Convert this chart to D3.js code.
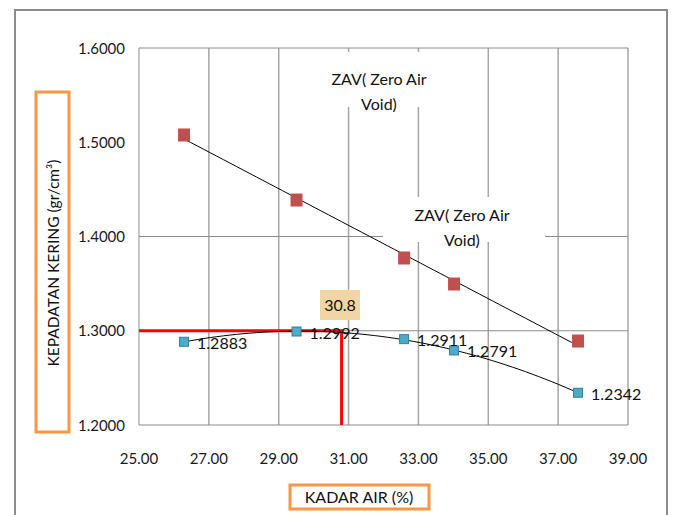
<!DOCTYPE html>
<html>
<head>
<meta charset="utf-8">
<script src="https://cdn.jsdelivr.net/npm/d3@7"></script>
<style>
  html, body { margin: 0; padding: 0; background: #fff; }
  svg text { font-family: Lato, "Open Sans", sans-serif; }
</style>
</head>
<body>
<svg id="chart" width="673" height="515"></svg>
<script>
// ---- data ----
const kadarAir = [26.29, 29.51, 32.59, 34.02, 37.57];          // x values (%)
const zavValues = [1.5077, 1.4387, 1.3772, 1.3496, 1.2891];     // ZAV (red squares)
const kepadatan = [1.2883, 1.2992, 1.2911, 1.2791, 1.2342];     // dry density (blue squares)
const kepadatanLabels = ["1.2883", "1.2992", "1.2911", "1.2791", "1.2342"];
const xTicks = [25, 27, 29, 31, 33, 35, 37, 39];
const yTicks = [1.2, 1.3, 1.4, 1.5, 1.6];
const yGrid = [1.3, 1.4];
const optimum = { x: 30.8, y: 1.3, label: "30.8" };
const zavLabelLines = ["ZAV( Zero Air", "Void)"];

const svg = d3.select("#chart");
const x = d3.scaleLinear().domain([25, 39]).range([139, 628]);
const y = d3.scaleLinear().domain([1.2, 1.6]).range([425, 48]);

// outer frame
svg.append("rect").attr("x", 15).attr("y", 10).attr("width", 652).attr("height", 520)
  .attr("fill", "none").attr("stroke", "#8c8c8c").attr("stroke-width", 2);

// gridlines
const g = svg.append("g");
g.selectAll(".vg").data(xTicks.slice(1)).join("line")
  .attr("x1", d => x(d)).attr("x2", d => x(d)).attr("y1", y(1.6)).attr("y2", y(1.2))
  .attr("stroke", "#a6a6a6").attr("stroke-width", 1.5);
g.selectAll(".hg").data(yGrid).join("line")
  .attr("x1", x(25)).attr("x2", x(39)).attr("y1", d => y(d)).attr("y2", d => y(d))
  .attr("stroke", "#8c8c8c").attr("stroke-width", 1);
g.append("line").attr("x1", x(25)).attr("x2", x(39)).attr("y1", y(1.6)).attr("y2", y(1.6))
  .attr("stroke", "#8c8c8c").attr("stroke-width", 1);
g.append("line").attr("x1", x(25)).attr("x2", x(39)).attr("y1", y(1.2)).attr("y2", y(1.2))
  .attr("stroke", "#8c8c8c").attr("stroke-width", 1);
g.append("line").attr("x1", x(25)).attr("x2", x(25)).attr("y1", y(1.6)).attr("y2", y(1.2))
  .attr("stroke", "#8c8c8c").attr("stroke-width", 1);

// axis tick labels
svg.selectAll(".yt").data(yTicks).join("text")
  .attr("x", 125).attr("y", d => y(d) + 5.5).attr("text-anchor", "end")
  .attr("font-size", 15).attr("fill", "#1a1a1a").text(d => d.toFixed(4));
svg.selectAll(".xt").data(xTicks).join("text")
  .attr("x", d => x(d)).attr("y", 464).attr("text-anchor", "middle")
  .attr("font-size", 15).attr("fill", "#1a1a1a").text(d => d.toFixed(2));

// ZAV label boxes (white backgrounds hide gridlines)
function zavLabel(cx, y0, box) {
  svg.append("rect").attr("x", box[0]).attr("y", box[1]).attr("width", box[2]).attr("height", box[3]).attr("fill", "#fff");
  svg.selectAll(null).data(zavLabelLines).join("text")
    .attr("x", cx).attr("y", (d, i) => y0 + i * 25).attr("text-anchor", "middle")
    .attr("font-size", 16).attr("fill", "#111").text(d => d);
}
zavLabel(379, 85, [312, 52, 134, 55]);
zavLabel(462, 221, [383, 197, 162, 45]);

// trendlines
function linearFit(xs, ys) {
  const n = xs.length, mx = d3.mean(xs), my = d3.mean(ys);
  let sxy = 0, sxx = 0;
  for (let i = 0; i < n; i++) { sxy += (xs[i] - mx) * (ys[i] - my); sxx += (xs[i] - mx) ** 2; }
  const b = sxy / sxx; return t => my + b * (t - mx);
}
function quadFit(xs, ys) {
  const S = Array.from({length: 5}, (_, k) => d3.sum(xs, v => v ** k));
  const T = Array.from({length: 3}, (_, k) => d3.sum(xs, (v, i) => ys[i] * v ** k));
  const A = [[S[0], S[1], S[2], T[0]], [S[1], S[2], S[3], T[1]], [S[2], S[3], S[4], T[2]]];
  for (let i = 0; i < 3; i++) {
    for (let j = i + 1; j < 3; j++) {
      const f = A[j][i] / A[i][i];
      for (let k = i; k < 4; k++) A[j][k] -= f * A[i][k];
    }
  }
  const c = A[2][3] / A[2][2];
  const b = (A[1][3] - A[1][2] * c) / A[1][1];
  const a = (A[0][3] - A[0][2] * c - A[0][1] * b) / A[0][0];
  return t => a + b * t + c * t * t;
}
const xmin = d3.min(kadarAir), xmax = d3.max(kadarAir);
const samples = d3.range(0, 61).map(i => xmin + (xmax - xmin) * i / 60);
const lf = linearFit(kadarAir, zavValues);
const qf = quadFit(kadarAir, kepadatan);
const line = d3.line().x(d => x(d[0])).y(d => y(d[1]));

// red optimum lines
svg.append("path").attr("d", line([[25, optimum.y], [optimum.x, optimum.y], [optimum.x, 1.2]]))
  .attr("fill", "none").attr("stroke", "#ff0000").attr("stroke-width", 3);

svg.append("path").attr("d", line(samples.map(t => [t, lf(t)])))
  .attr("fill", "none").attr("stroke", "#000").attr("stroke-width", 1);
svg.append("path").attr("d", line(samples.map(t => [t, qf(t)])))
  .attr("fill", "none").attr("stroke", "#000").attr("stroke-width", 1);

// markers
svg.selectAll(".zav").data(kadarAir).join("rect")
  .attr("x", (d) => x(d) - 6).attr("y", (d, i) => y(zavValues[i]) - 6.5)
  .attr("width", 12).attr("height", 13).attr("fill", "#c0504d");
svg.selectAll(".kd").data(kadarAir).join("rect")
  .attr("x", d => x(d) - 4.5).attr("y", (d, i) => y(kepadatan[i]) - 4.5)
  .attr("width", 9).attr("height", 9).attr("fill", "#4bacc6").attr("stroke", "#357ca5").attr("stroke-width", 1);

// data labels
svg.selectAll(".kdl").data(kadarAir).join("text")
  .attr("x", d => x(d) + 13).attr("y", (d, i) => y(kepadatan[i]) + 7)
  .attr("font-size", 16).attr("fill", "#111").text((d, i) => kepadatanLabels[i]);

// optimum label box
svg.append("rect").attr("x", 320).attr("y", 290).attr("width", 40).attr("height", 30).attr("fill", "#f0d6a3");
svg.append("text").attr("x", 340).attr("y", 311).attr("text-anchor", "middle")
  .attr("font-size", 16).attr("fill", "#111").text(optimum.label);

// axis titles in orange boxes
svg.append("rect").attr("x", 36).attr("y", 92).attr("width", 33).attr("height", 340)
  .attr("fill", "none").attr("stroke", "#f79646").attr("stroke-width", 3);
svg.append("text").attr("transform", "translate(59,263) rotate(-90)").attr("text-anchor", "middle")
  .attr("font-size", 15.5).attr("fill", "#111").text("KEPADATAN KERING (gr/cm³)");
svg.append("rect").attr("x", 290).attr("y", 485).attr("width", 139).attr("height", 24)
  .attr("fill", "none").attr("stroke", "#f79646").attr("stroke-width", 3);
svg.append("text").attr("x", 359).attr("y", 503).attr("text-anchor", "middle")
  .attr("font-size", 16).attr("fill", "#111").text("KADAR AIR (%)");
</script>
</body>
</html>
